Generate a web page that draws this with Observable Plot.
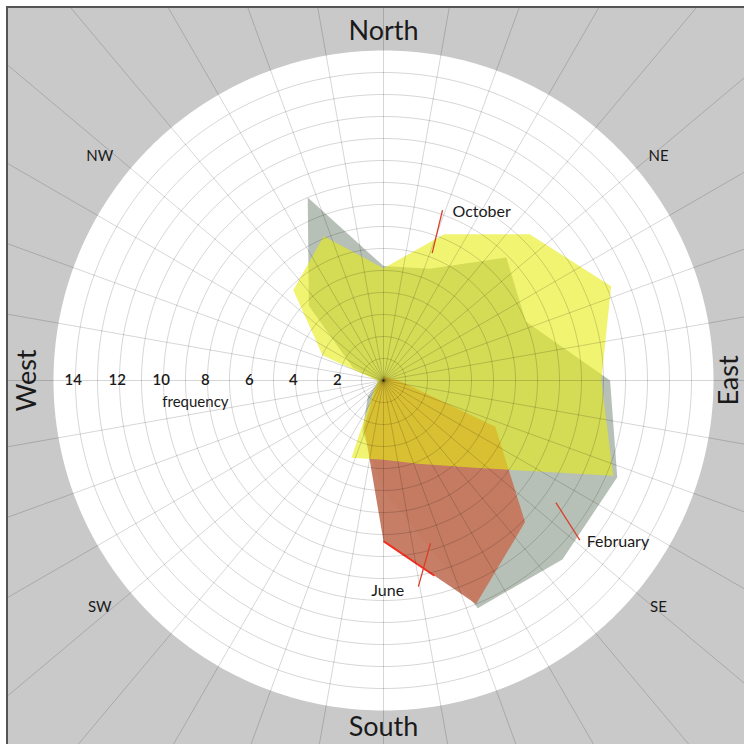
<!DOCTYPE html>
<html><head><meta charset="utf-8">
<script src="https://cdn.jsdelivr.net/npm/d3@7"></script>
<script src="https://cdn.jsdelivr.net/npm/@observablehq/plot@0.6"></script>
<style>
body{margin:0;background:#fff;}
#chart{position:absolute;left:6px;top:6px;width:738px;height:738px;border-top:2px solid #555;border-left:2px solid #555;background:#c9c9c9;overflow:hidden;}
#chart svg{overflow:hidden;display:block;}
</style></head><body><div id="chart"></div>
<script>
// ---- data ----
const directions = ["N","NNE","NE","ENE","E","ESE","SE","SSE","S","SSW","SW","WSW","W","WNW","NW","NNW"];
const february = [5.2, 5.5, 7.9, 7.0, 10.3, 11.5, 11.5, 11.2, 5.0, 2.5, 1.0, 0.3, 0.2, 1.5, 4.8, 9.0];
const june     = [0.2, 0.2, 0.2, 0.3, 0.7, 5.5, 9.1, 11.0, 7.3, 2.3, 0.5, 0.2, 0.1, 0.1, 0.1, 0.1];
const october  = [5.1, 7.2, 9.4, 11.2, 9.9, 11.3, 5.6, 4.1, 3.6, 3.8, 0.6, 0.3, 0.3, 3.0, 5.8, 7.1];
const months = ["February", "June", "October"];
const ticks = [2, 4, 6, 8, 10, 12, 14];
const cardinals = ["North", "East", "South", "West"];
const intercardinals = ["NE", "SE", "SW", "NW"];
const axisLabel = "frequency";
const maxFrequency = 15;

// ---- geometry helpers ----
const U = 22, W = 738, H = 738, CX = 375, CY = 372;
const rad = a => a * Math.PI / 180;
const px = (r, a) => r * Math.sin(rad(a));
const py = (r, a) => r * Math.cos(rad(a));
const step = 360 / directions.length;
const series = {February: february, June: june, October: october};
const colors = {February: "#b3bdb2", June: "#c4775e", October: "#e8ec12"};
const opac = {February: 0.95, June: 0.95, October: 0.6};

const polyOf = m => series[m].map((v, i) => ({month: m, dir: directions[i], x: px(v, i * step), y: py(v, i * step)}));
const circle = (r, n = 240) => d3.range(n).map(i => ({r, x: px(r, i * 360 / n), y: py(r, i * 360 / n)}));
const rings = d3.range(1, maxFrequency).flatMap(r => circle(r));
const spokes = d3.range(0, 360, 10).map(a => ({a, x2: px(40, a), y2: py(40, a)}));

// annotation anchors (polar: radius in frequency units, angle in degrees)
const notes = [
  {month: "October",  inner: [6.2, 20.9],  outer: [8.2, 19.1],  text: [8.3, 22.2], anchor: "start"},
  {month: "February", inner: [9.6, 125.3], outer: [11.5, 129.1], text: [11.8, 128.5], anchor: "start"},
  {month: "June",     inner: [7.7, 163.9], outer: [9.5, 170.4], text: [9.6, 174.4], anchor: "end"}
];
const P = p => ({x: px(p[0], p[1]), y: py(p[0], p[1])});

// red highlight along part of the June S–SSE edge
const jS = directions.indexOf("S"), jSSE = directions.indexOf("SSE");
const jA = P([june[jS], jS * step]), jB = P([june[jSSE], jSSE * step]);
const juneEdge = [{x1: jA.x, y1: jA.y, x2: jA.x + 0.55 * (jB.x - jA.x), y2: jA.y + 0.55 * (jB.y - jA.y)}];

const cardR = {North: 15.85, East: 15.7, South: 15.75, West: 16.2};
const cardA = {North: 0, East: 90, South: 180, West: 270};
const interXY = {NE: [12.5, 10.2], SE: [12.5, -10.3], SW: [-12.9, -10.3], NW: [-12.9, 10.2]};

const font = "Lato, 'Open Sans', sans-serif";

const marks = [
  Plot.line(circle(maxFrequency, 360), {x: "x", y: "y", curve: "linear-closed", fill: "white", stroke: "none"}),
  ...months.map(m => Plot.line(polyOf(m), {x: "x", y: "y", curve: "linear-closed", fill: colors[m], fillOpacity: opac[m], stroke: "none"})),
  Plot.link(juneEdge, {x1: "x1", y1: "y1", x2: "x2", y2: "y2", stroke: "#f03020", strokeWidth: 2}),
  Plot.line(rings, {x: "x", y: "y", z: "r", curve: "linear-closed", stroke: "black", strokeOpacity: 0.16, strokeWidth: 1}),
  Plot.link(spokes, {x1: 0, y1: 0, x2: "x2", y2: "y2", stroke: "black", strokeOpacity: 0.16, strokeWidth: 1}),
  Plot.link(notes, {x1: d => P(d.inner).x, y1: d => P(d.inner).y, x2: d => P(d.outer).x, y2: d => P(d.outer).y, stroke: "#d8402a", strokeWidth: 1.3}),
  Plot.text(notes.filter(d => d.anchor === "start"), {x: d => P(d.text).x, y: d => P(d.text).y, text: "month", textAnchor: "start", fontSize: 16, fill: "#1a1a1a", fontFamily: font}),
  Plot.text(notes.filter(d => d.anchor === "end"), {x: d => P(d.text).x, y: d => P(d.text).y, text: "month", textAnchor: "end", fontSize: 16, fill: "#1a1a1a", fontFamily: font}),
  Plot.text(ticks, {x: d => -d - 0.1, y: 0, text: d => String(d), fontSize: 15, fontWeight: 600, fill: "#1a1a1a", fontFamily: font}),
  Plot.text([axisLabel], {x: -8.55, y: -1.0, text: d => d, fontSize: 15, fill: "#1a1a1a", fontFamily: font}),
  Plot.text(cardinals.filter(c => c === "North" || c === "South"), {x: c => px(cardR[c], cardA[c]), y: c => py(cardR[c], cardA[c]), text: d => d, fontSize: 27, fill: "#1a1a1a", fontFamily: font}),
  Plot.text(cardinals.filter(c => c === "East" || c === "West"), {x: c => px(cardR[c], cardA[c]), y: c => py(cardR[c], cardA[c]), text: d => d, rotate: -90, fontSize: 27, fill: "#1a1a1a", fontFamily: font}),
  Plot.text(intercardinals, {x: c => interXY[c][0], y: c => interXY[c][1], text: d => d, fontSize: 15, fill: "#1a1a1a", fontFamily: font})
];

const chart = Plot.plot({
  width: W, height: H,
  margin: 0,
  x: {domain: [-CX / U, (W - CX) / U], axis: null},
  y: {domain: [-(H - CY) / U, CY / U], axis: null},
  style: {background: "transparent", overflow: "hidden"},
  marks
});
document.getElementById("chart").appendChild(chart);
</script>
</body></html>
